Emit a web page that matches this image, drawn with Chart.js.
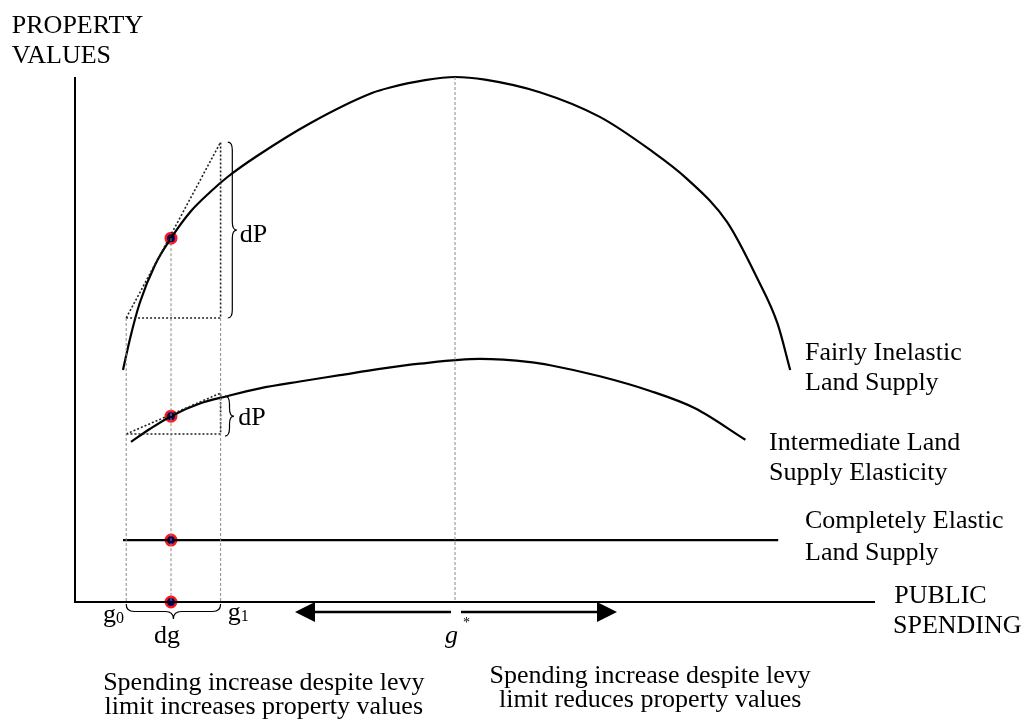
<!DOCTYPE html>
<html>
<head>
<meta charset="utf-8">
<script src="https://cdn.jsdelivr.net/npm/chart.js@4.4.1/dist/chart.umd.min.js"></script>
<style>
  html, body { margin: 0; padding: 0; background: #fff; }
  #wrap { width: 1029px; height: 720px; position: relative; }
</style>
</head>
<body>
<div id="wrap"><canvas id="landChart"></canvas></div>
<script>
// curves (x = public spending, y = property values, both 0..100)
const inelasticX = [6.0, 6.9, 8.1, 10.0, 12.0, 14.4, 16.9, 19.1, 22.8, 29.4, 37.2, 39.4, 43.75, 47.5, 51.25, 58.1, 65.6, 71.9, 76.5, 81.5, 85.2, 87.8, 89.4];
const inelasticY = [44.2, 50.3, 57.0, 64.2, 69.3, 74.3, 78.1, 81.0, 85.0, 91.2, 97.0, 98.0, 99.4, 100, 99.5, 97.1, 92.4, 86.1, 80.6, 72.4, 61.9, 53.1, 44.2];

const intermediateX = [7.0, 9.4, 12.0, 15.6, 19.0, 23.1, 28.1, 33.1, 38.1, 43.1, 50.6, 56.9, 59.4, 65.6, 71.9, 77.5, 83.8];
const intermediateY = [30.5, 33.0, 35.4, 37.8, 39.2, 40.7, 42.0, 43.2, 44.4, 45.4, 46.3, 45.7, 45.1, 43.0, 40.2, 36.9, 30.9];

const elasticX = [6.0, 87.9];
const elasticY = [11.8, 11.8];

// spending levels
const G0 = 6.4;
const G_MID = 12;
const G1 = 18.2;
const G_STAR = 47.5;

// red dots at g (one per curve + the axis)
const dotY = [69.3, 35.4, 11.8, 0];

// tangent triangles: y at g0 and at g1
const upperTangentY = [54.1, 87.6];
const lowerTangentY = [32.0, 39.8];

// gray guide lines: x and top end
const guideX = [G0, G_MID, G1, G_STAR];
const guideTop = [54.1, 69.3, 54.1, 100];

// arrow under the axis
const arrowY = -1.9;
const arrowLeft = 27.5;
const arrowRight = 67.75;
const arrowGap = [47.0, 48.25];

const FONT = "'Liberation Serif', 'Times New Roman', serif";

function zip(xs, ys) {
  return xs.map((x, i) => ({ x: x, y: ys[i] }));
}

function lineSet(data, extra) {
  return Object.assign({
    data: data,
    showLine: true,
    borderColor: "#000",
    borderWidth: 2,
    pointRadius: 0,
    fill: false,
    clip: false,
  }, extra || {});
}

const datasets = [];

// axes
datasets.push(lineSet([{ x: 0, y: 100 }, { x: 0, y: 0 }, { x: 100, y: 0 }], { borderWidth: 2 }));

// gray dashed guides
guideX.forEach((x, i) => {
  datasets.push(lineSet([{ x: x, y: guideTop[i] }, { x: x, y: 0 }], {
    borderColor: "#8a8a8a", borderWidth: 1, borderDash: [3, 2],
  }));
});

// dotted tangent triangles
[upperTangentY, lowerTangentY].forEach((ty) => {
  datasets.push(lineSet([
    { x: G0, y: ty[0] }, { x: G1, y: ty[1] }, { x: G1, y: ty[0] }, { x: G0, y: ty[0] },
  ], { borderWidth: 1.6, borderDash: [2, 2], borderColor: "#222" }));
});

// the three land supply curves
datasets.push(lineSet(zip(inelasticX, inelasticY), { cubicInterpolationMode: "monotone", borderWidth: 2.2 }));
datasets.push(lineSet(zip(intermediateX, intermediateY), { cubicInterpolationMode: "monotone", borderWidth: 2.2 }));
datasets.push(lineSet(zip(elasticX, elasticY), { borderWidth: 2.2 }));

// dots
datasets.push({
  data: dotY.map((y) => ({ x: G_MID, y: y })),
  showLine: false,
  pointRadius: 5.2,
  pointBorderWidth: 2.6,
  pointBorderColor: "#ff1a1a",
  pointBackgroundColor: "#000070",
  clip: false,
});

const labels = [
  { t: "PROPERTY", x: -7.9, y: 108.4 },
  { t: "VALUES", x: -7.9, y: 102.7 },
  { t: "Fairly Inelastic", x: 91.25, y: 46.1 },
  { t: "Land Supply", x: 91.25, y: 40.4 },
  { t: "Intermediate Land", x: 86.75, y: 29.0 },
  { t: "Supply Elasticity", x: 86.75, y: 23.2 },
  { t: "Completely Elastic", x: 91.25, y: 14.1 },
  { t: "Land Supply", x: 91.25, y: 8.0 },
  { t: "PUBLIC", x: 102.4, y: -0.2 },
  { t: "SPENDING", x: 102.25, y: -5.9 },
  { t: "dP", x: 20.6, y: 68.6 },
  { t: "dP", x: 20.4, y: 33.7 },
  { t: "dg", x: 11.5, y: -7.8, align: "center" },
  { t: "Spending increase despite levy", x: 23.6, y: -16.8, align: "center" },
  { t: "limit increases property values", x: 23.6, y: -21.3, align: "center" },
  { t: "Spending increase despite levy", x: 71.9, y: -15.4, align: "center" },
  { t: "limit reduces property values", x: 71.9, y: -20.0, align: "center" },
];

function braceV(ctx, x, yTop, yBot, w) {
  const yMid = (yTop + yBot) / 2;
  const r = Math.min(8, (yBot - yTop) / 4);
  const xm = x + w / 2;
  ctx.beginPath();
  ctx.moveTo(x, yTop);
  ctx.quadraticCurveTo(xm, yTop, xm, yTop + r);
  ctx.lineTo(xm, yMid - r);
  ctx.quadraticCurveTo(xm, yMid, x + w, yMid);
  ctx.quadraticCurveTo(xm, yMid, xm, yMid + r);
  ctx.lineTo(xm, yBot - r);
  ctx.quadraticCurveTo(xm, yBot, x, yBot);
  ctx.stroke();
}

function braceH(ctx, xL, xR, y, h) {
  const xMid = (xL + xR) / 2;
  const r = 8;
  const ym = y + h / 2;
  ctx.beginPath();
  ctx.moveTo(xL, y);
  ctx.quadraticCurveTo(xL, ym, xL + r, ym);
  ctx.lineTo(xMid - r, ym);
  ctx.quadraticCurveTo(xMid, ym, xMid, y + h);
  ctx.quadraticCurveTo(xMid, ym, xMid + r, ym);
  ctx.lineTo(xR - r, ym);
  ctx.quadraticCurveTo(xR, ym, xR, y);
  ctx.stroke();
}

const decorPlugin = {
  id: "decor",
  afterDatasetsDraw(chart) {
    const ctx = chart.ctx;
    const sx = chart.scales.x;
    const sy = chart.scales.y;
    const px = (v) => sx.getPixelForValue(v);
    const py = (v) => sy.getPixelForValue(v);

    ctx.save();
    ctx.strokeStyle = "#000";
    ctx.lineWidth = 1.2;

    // braces
    braceV(ctx, px(19.1), py(87.6), py(54.1), 9);
    braceV(ctx, px(18.75), py(39.2), py(31.6), 9);
    braceH(ctx, px(G0), px(G1), py(0) + 2, 15);

    // double arrow
    const ay = py(arrowY);
    const head = 20;
    const half = 10;
    ctx.lineWidth = 2.6;
    ctx.beginPath();
    ctx.moveTo(px(arrowLeft) + head - 2, ay);
    ctx.lineTo(px(arrowGap[0]), ay);
    ctx.moveTo(px(arrowGap[1]), ay);
    ctx.lineTo(px(arrowRight) - head + 2, ay);
    ctx.stroke();
    ctx.fillStyle = "#000";
    ctx.beginPath();
    ctx.moveTo(px(arrowLeft), ay);
    ctx.lineTo(px(arrowLeft) + head, ay - half);
    ctx.lineTo(px(arrowLeft) + head, ay + half);
    ctx.closePath();
    ctx.fill();
    ctx.beginPath();
    ctx.moveTo(px(arrowRight), ay);
    ctx.lineTo(px(arrowRight) - head, ay - half);
    ctx.lineTo(px(arrowRight) - head, ay + half);
    ctx.closePath();
    ctx.fill();

    // text
    ctx.fillStyle = "#000";
    ctx.textBaseline = "alphabetic";
    ctx.font = "26px " + FONT;
    labels.forEach((l) => {
      ctx.textAlign = l.align || "left";
      ctx.fillText(l.t, px(l.x), py(l.y));
    });

    // g0, g1 with subscripts
    ctx.textAlign = "left";
    [[3.5, -3.8, "0"], [19.1, -3.4, "1"]].forEach(([x, y, sub]) => {
      ctx.font = "26px " + FONT;
      ctx.fillText("g", px(x), py(y));
      const w = ctx.measureText("g").width;
      ctx.font = "16px " + FONT;
      ctx.fillText(sub, px(x) + w, py(y) + 1);
    });

    // g* in italics
    ctx.font = "italic 26px " + FONT;
    ctx.fillText("g", px(46.25), py(-7.8));
    ctx.font = "14px " + FONT;
    ctx.fillText("*", px(46.25) + 18, py(-7.8) - 16);

    ctx.restore();
  },
};

new Chart(document.getElementById("landChart"), {
  type: "scatter",
  data: { datasets: datasets },
  options: {
    responsive: true,
    maintainAspectRatio: false,
    animation: false,
    layout: { padding: { left: 75, right: 154, top: 77, bottom: 118 } },
    plugins: { legend: { display: false }, tooltip: { enabled: false } },
    scales: {
      x: { type: "linear", min: 0, max: 100, display: false },
      y: { type: "linear", min: 0, max: 100, display: false },
    },
  },
  plugins: [decorPlugin],
});
</script>
</body>
</html>
